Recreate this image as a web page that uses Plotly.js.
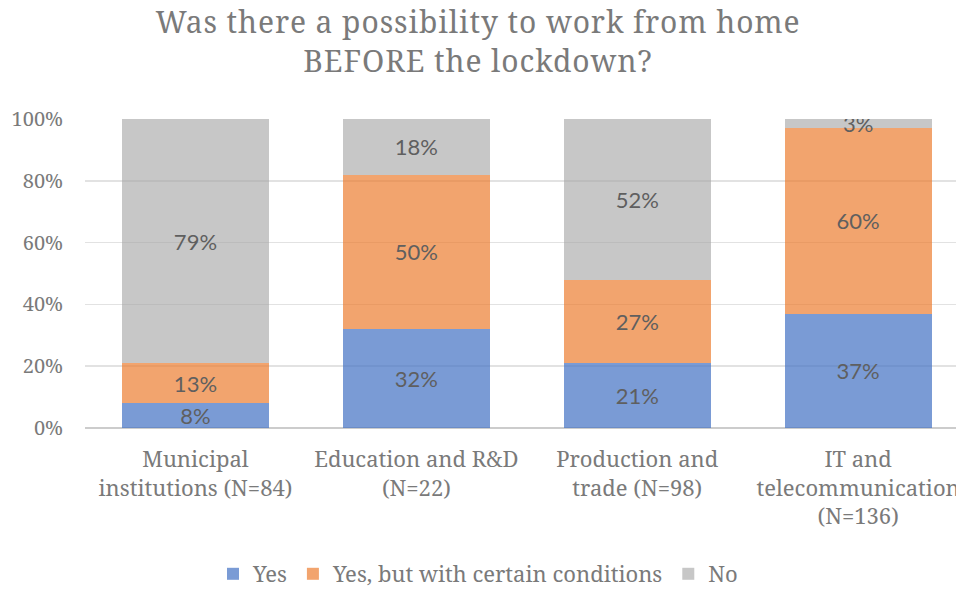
<!DOCTYPE html>
<html>
<head>
<meta charset="utf-8">
<script src="https://cdn.plot.ly/plotly-3.0.1.min.js"></script>
<style>
html,body{margin:0;padding:0;background:#fff;}
#chart{width:956px;height:589px;}
.gtitle{letter-spacing:0.9px;}
</style>
</head>
<body>
<div id="chart"></div>
<script>
const categories = [
  "Municipal<br>institutions (N=84)",
  "Education and R&amp;D<br>(N=22)",
  "Production and<br>trade (N=98)",
  "IT and<br>telecommunication<br>(N=136)"
];
const seriesNames = ["Yes", "Yes, but with certain conditions", "No"];
const yesValues = [0.08, 0.32, 0.21, 0.37];
const conditionalValues = [0.13, 0.50, 0.27, 0.60];
const noValues = [0.79, 0.18, 0.52, 0.03];
const yTickValues = [0, 0.2, 0.4, 0.6, 0.8, 1.0];
const yTickLabels = ["0%", "20%", "40%", "60%", "80%", "100%"];

const colors = ["rgba(68,114,196,0.71)", "rgba(237,125,49,0.70)", "rgba(165,165,165,0.62)"];
const allValues = [yesValues, conditionalValues, noValues];
const xIdx = categories.map((c, i) => i);

const serif = "Noto Serif";
const gray = "#7a7a7a";

const traces = allValues.map((vals, k) => ({
  type: "bar",
  name: seriesNames[k],
  x: xIdx,
  y: vals,
  width: 0.665,
  marker: {color: colors[k], line: {width: 0}},
  text: vals.map(v => Math.round(v * 100) + "%"),
  textposition: "inside",
  insidetextanchor: "middle",
  textangle: 0,
  constraintext: "none",
  insidetextfont: {family: "Lato", size: 22, color: "#5f5f5f"},
  hoverinfo: "skip"
}));

const layout = {
  width: 956,
  height: 589,
  barmode: "stack",
  paper_bgcolor: "#ffffff",
  plot_bgcolor: "#ffffff",
  margin: {l: 85, r: 0, t: 119, b: 161, pad: 0},
  font: {family: serif},
  title: {
    text: "Was there a possibility to work from home<br>BEFORE the lockdown?",
    font: {family: serif, size: 30, color: gray},
    x: 0.5, xanchor: "center",
    yref: "container", y: 1 - 33 / 589, yanchor: "middle"
  },
  xaxis: {
    tickmode: "array",
    tickvals: xIdx,
    ticktext: categories,
    range: [-0.5, 3.443],
    showgrid: false,
    zeroline: false,
    showline: false,
    ticks: "",
    ticklabelstandoff: 16,
    ticklabeloverflow: "allow",
    tickfont: {family: serif, size: 22, color: gray},
    fixedrange: true
  },
  yaxis: {
    range: [0, 1],
    tickmode: "array",
    tickvals: yTickValues,
    ticktext: yTickLabels,
    showgrid: true,
    gridcolor: "#e2e2e2",
    gridwidth: 1.5,
    zeroline: true,
    zerolinecolor: "#cccccc",
    zerolinewidth: 1.5,
    showline: false,
    ticks: "",
    ticklabelstandoff: 21,
    tickfont: {family: serif, size: 20, color: gray},
    fixedrange: true
  },
  showlegend: true,
  legend: {
    orientation: "h",
    x: 0.5, xanchor: "center",
    xref: "container",
    yref: "container", y: (589 - 574) / 589, yanchor: "middle",
    font: {family: serif, size: 22, color: gray},
    traceorder: "normal",
    itemclick: false,
    itemdoubleclick: false
  }
};

Plotly.newPlot("chart", traces, layout, {displayModeBar: false, staticPlot: true});
</script>
</body>
</html>
